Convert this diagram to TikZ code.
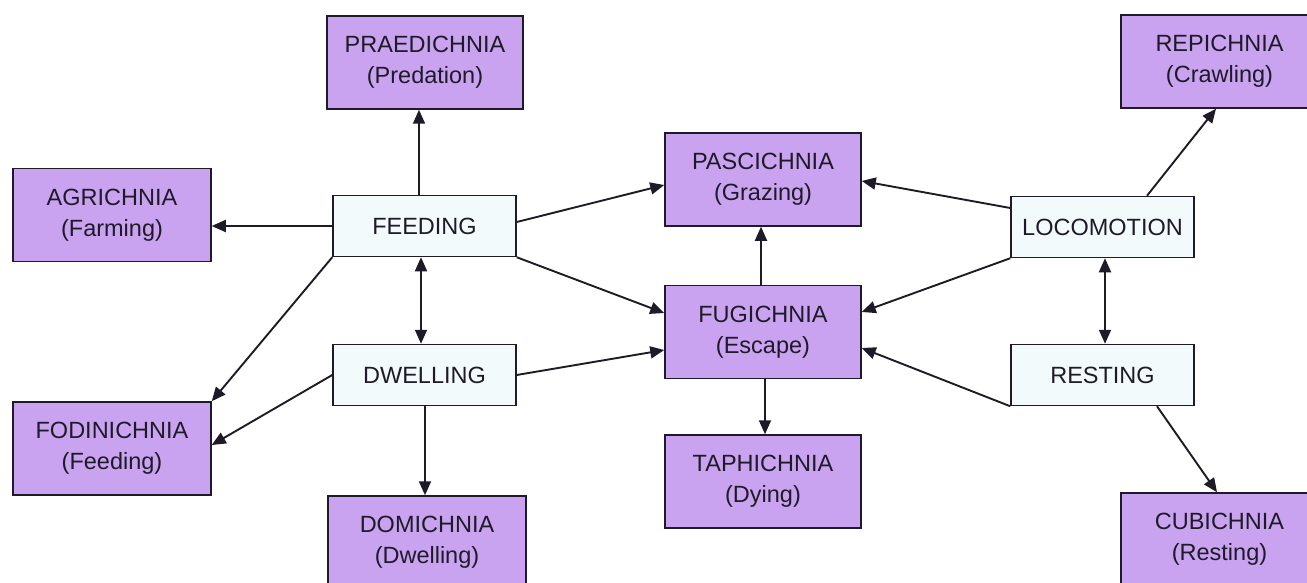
\documentclass[tikz,border=0pt]{standalone}
\usepackage{fontspec}
\setmainfont{Liberation Sans}
\usetikzlibrary{arrows.meta}
\definecolor{trace}{RGB}{201,163,240}
\definecolor{cat}{RGB}{243,250,251}
\definecolor{ink}{RGB}{30,26,40}
\tikzset{
  base/.style={draw=ink, line width=1.5pt, text=ink, align=center, inner sep=0pt,
    font=\fontsize{23.5}{31}\selectfont},
  tracebox/.style={base, fill=trace, minimum height=93pt},
  catbox/.style={base, fill=cat, minimum height=61pt},
  conn/.style={draw=ink, line width=1.9pt, -{Triangle[length=14pt,width=12pt]}},
  bconn/.style={draw=ink, line width=1.9pt, {Triangle[length=14pt,width=12pt]}-{Triangle[length=14pt,width=12pt]}}
}
\begin{document}
\begin{tikzpicture}[x=1pt,y=-1pt]
\useasboundingbox (0,0) rectangle (1307,583);
% category boxes
\node[catbox, minimum width=183pt] (feed) at (424.5,226) {FEEDING};
\node[catbox, minimum width=183pt] (dwel) at (424.5,375) {DWELLING};
\node[catbox, minimum width=183pt] (loco) at (1102.5,227) {LOCOMOTION};
\node[catbox, minimum width=183pt] (rest) at (1102.5,375) {RESTING};
% trace fossil boxes
\node[tracebox, minimum width=196pt] (prae) at (425,62.5) {PRAEDICHNIA\\(Predation)};
\node[tracebox, minimum width=198pt] (agri) at (112,215) {AGRICHNIA\\(Farming)};
\node[tracebox, minimum width=198pt] (fodi) at (112,448.5) {FODINICHNIA\\(Feeding)};
\node[tracebox, minimum width=198pt] (domi) at (427,542.5) {DOMICHNIA\\(Dwelling)};
\node[tracebox, minimum width=196pt] (pasc) at (763,179.5) {PASCICHNIA\\(Grazing)};
\node[tracebox, minimum width=196pt] (fugi) at (763,332) {FUGICHNIA\\(Escape)};
\node[tracebox, minimum width=196pt] (taph) at (763,481.5) {TAPHICHNIA\\(Dying)};
\node[tracebox, minimum width=197pt] (repi) at (1219.5,61.5) {REPICHNIA\\(Crawling)};
\node[tracebox, minimum width=197pt] (cubi) at (1219.5,539.5) {CUBICHNIA\\(Resting)};
% connectors
\draw[conn] ([xshift=-5.5pt]feed.north) -- ([xshift=-5.5pt]feed.north |- prae.south);
\draw[conn] (feed.west) -- (feed.west -| agri.east);
\draw[conn] (feed.south west) -- (fodi.north east);
\draw[bconn] ([xshift=-3.5pt]feed.south) -- ([xshift=-3.5pt]dwel.north);
\draw[conn] (dwel.west) -- ([yshift=3.5pt]fodi.east);
\draw[conn] ([xshift=0.5pt]dwel.south) -- ([xshift=0.5pt]dwel.south |- domi.north);
\draw[conn] (dwel.east) -- ([yshift=-18pt]fugi.west);
\draw[conn] ([yshift=4pt]feed.east) -- ([yshift=-5.5pt]pasc.west);
\draw[conn] (feed.south east) -- ([yshift=19pt]fugi.west);
\draw[conn] ([xshift=-2pt]fugi.north) -- ([xshift=-2pt]pasc.south);
\draw[conn] ([xshift=2pt]fugi.south) -- ([xshift=2pt]taph.north);
\draw[conn] ([yshift=19pt]loco.west) -- ([yshift=-1.5pt]pasc.east);
\draw[conn] (loco.south west) -- ([yshift=20pt]fugi.east);
\draw[conn] (rest.south west) -- ([yshift=-16pt]fugi.east);
\draw[bconn] ([xshift=2.5pt]loco.south) -- ([xshift=2.5pt]rest.north);
\draw[conn] ([xshift=44.5pt]loco.north) -- ([xshift=-3.5pt]repi.south);
\draw[conn] ([xshift=54.5pt]rest.south) -- ([xshift=-2.5pt]cubi.north);
\end{tikzpicture}
\end{document}
